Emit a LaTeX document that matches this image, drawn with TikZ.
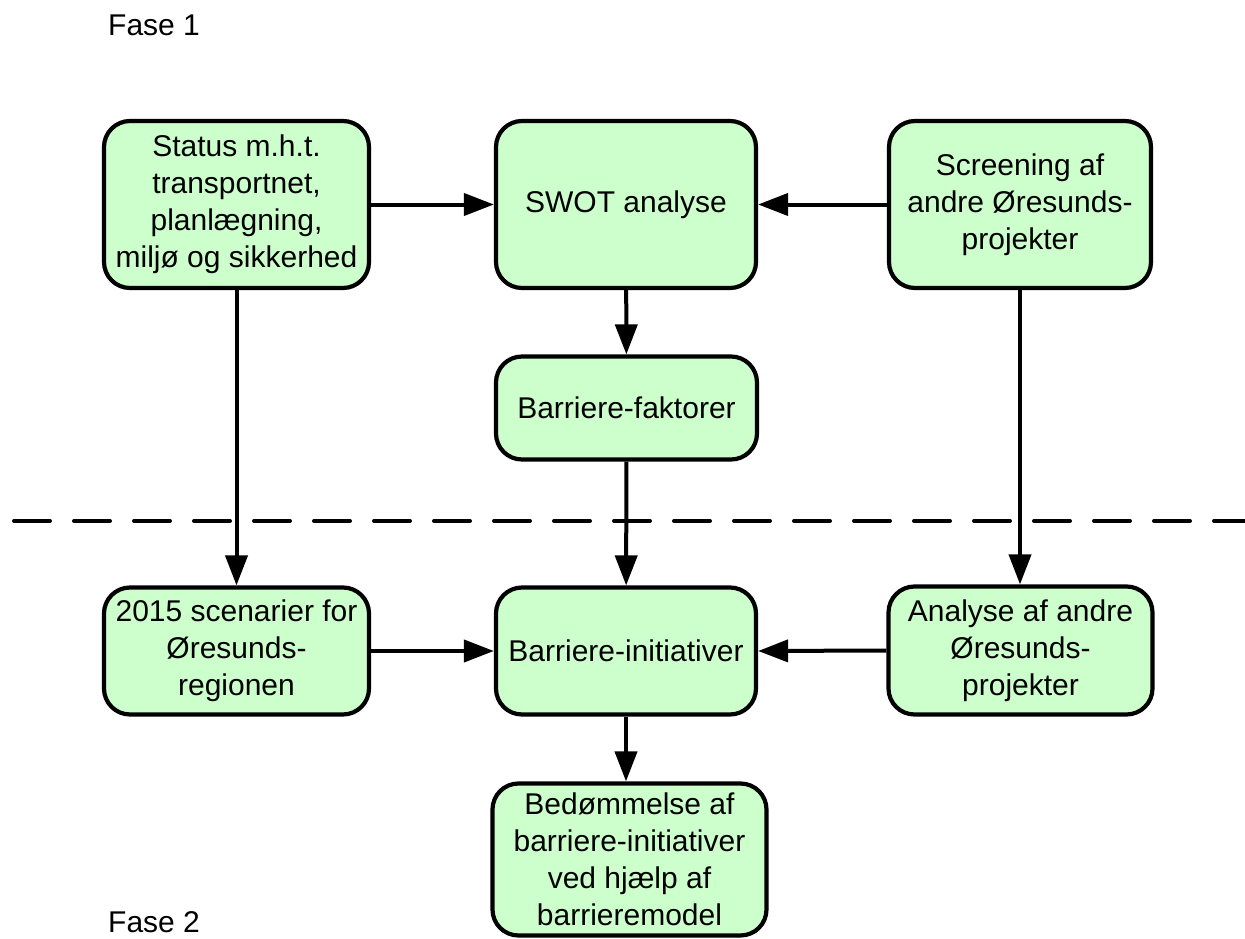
\documentclass[tikz,border=0pt]{standalone}
\usepackage{fontspec}
\setmainfont{Liberation Sans}
\usetikzlibrary{arrows.meta}
\definecolor{boxgreen}{HTML}{CCFFCC}
\tikzset{
  box/.style={draw=black, line width=4.2pt, fill=boxgreen, rounded corners=26pt,
    align=center, inner sep=0pt, font=\fontsize{30}{37}\selectfont},
  conn/.style={line width=4pt, -{Triangle[length=30pt,width=22pt]}},
  lbl/.style={font=\fontsize{30}{37}\selectfont, anchor=west, inner sep=0pt}
}
\begin{document}
\begin{tikzpicture}[x=1pt,y=-1pt]
\useasboundingbox (0,0) rectangle (1245,939);
\coordinate (dl) at (14,521);
\coordinate (dr) at (1245,521);
\draw[line width=4pt, line cap=round, dash pattern=on 36pt off 24pt] (dl) -- (dr);

\node[box, minimum width=265pt, minimum height=167pt] (status) at (236.5,204.5)
  {Status m.h.t.\\transportnet,\\planlægning,\\miljø og sikkerhed};
\node[box, minimum width=260pt, minimum height=167pt] (swot) at (626,204.5) {SWOT analyse};
\node[box, minimum width=262pt, minimum height=167pt] (screen) at (1020,204.5)
  {Screening af\\andre Øresunds-\\projekter};
\node[box, minimum width=261pt, minimum height=103pt] (faktor) at (626.5,408) {Barriere-faktorer};
\node[box, minimum width=265pt, minimum height=127pt] (scen) at (236.5,651)
  {2015 scenarier for\\Øresunds-\\regionen};
\node[box, minimum width=260pt, minimum height=127pt] (init) at (626,651) {Barriere-initiativer};
\node[box, minimum width=264pt, minimum height=128pt] (analyse) at (1020.5,650.5)
  {Analyse af andre\\Øresunds-\\projekter};
\node[box, minimum width=274pt, minimum height=152pt] (bedom) at (629.5,859.5)
  {Bedømmelse af\\barriere-initiativer\\ved hjælp af\\barrieremodel};

\node[lbl] (fase1) at (108,25) {Fase 1};
\node[lbl] (fase2) at (108,922) {Fase 2};

\draw[conn] (status.east |- swot.west) -- (swot.west);
\draw[conn] (screen.west) -- (swot.east);
\draw[conn] (swot) -- (faktor);
\draw[conn] (status) -- (scen);
\draw[conn] (screen) -- (analyse.north -| screen.south);
\draw[conn] (faktor) -- (init);
\draw[conn] (scen.east) -- (init.west);
\draw[conn] (analyse.west) -- (init.east);
\draw[conn] (init.south) -- (init.south |- bedom.north);
\end{tikzpicture}
\end{document}
